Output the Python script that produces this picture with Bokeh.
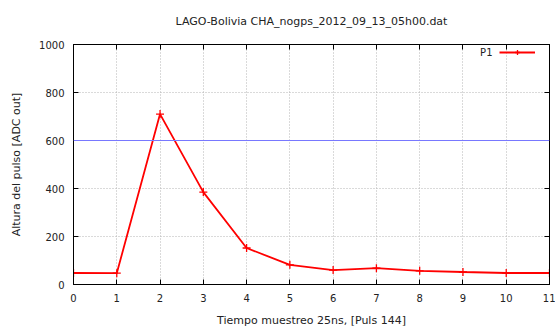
from bokeh.plotting import figure
from bokeh.models import LinearAxis, Legend, LegendItem, Label, FixedTicker, Span
from bokeh.core.properties import value
from bokeh.embed import file_html
from bokeh.resources import INLINE

# data
muestra = [0, 1, 2, 3, 4, 5, 6, 7, 8, 9, 10, 11]
p1 = [48, 47, 710, 385, 152, 82, 60, 68, 57, 52, 48, 48]
umbral = 600
x_ticks = list(range(0, 12))
y_ticks = [0, 200, 400, 600, 800, 1000]

title_text = "LAGO-Bolivia CHA_nogps_2012_09_13_05h00.dat"
x_label = "Tiempo muestreo 25ns, [Puls 144]"
y_label = "Altura del pulso [ADC out]"
serie = "P1"

FONT = "DejaVu Sans"
TXT = "#222222"

p = figure(width=555, height=332, output_backend="svg", toolbar_location=None,
           x_range=(0, 11), y_range=(0, 1000),
           min_border_left=73, min_border_right=6, min_border_top=44, min_border_bottom=48,
           x_axis_location=None, y_axis_location=None)
p.background_fill_color = "white"
p.border_fill_color = "white"
p.outline_line_color = "black"
p.outline_line_width = 1

def style_axis(ax, ticks, show_labels):
    ax.axis_line_color = "black"
    ax.major_tick_in = 5
    ax.major_tick_out = 0
    ax.minor_tick_line_color = None
    ax.major_tick_line_color = "black"
    ax.major_label_text_font = FONT
    ax.major_label_text_font_size = "10px"
    ax.major_label_text_color = TXT
    ax.axis_label_text_font = FONT
    ax.axis_label_text_font_size = "11px"
    ax.axis_label_text_font_style = "normal"
    ax.axis_label_text_color = TXT
    if not show_labels:
        ax.major_label_overrides = {t: "" for t in ticks}
        ax.major_label_standoff = 0

xb = LinearAxis(ticker=FixedTicker(ticks=x_ticks), axis_label=x_label)
style_axis(xb, x_ticks, True)
xb.major_label_standoff = 9
xb.axis_label_standoff = 9
p.add_layout(xb, "below")

yl = LinearAxis(ticker=FixedTicker(ticks=y_ticks), axis_label=y_label)
style_axis(yl, y_ticks, True)
yl.major_label_standoff = 9
yl.axis_label_standoff = 13
p.add_layout(yl, "left")

xt = LinearAxis(ticker=FixedTicker(ticks=x_ticks))
style_axis(xt, x_ticks, False)
p.add_layout(xt, "above")
yr = LinearAxis(ticker=FixedTicker(ticks=y_ticks))
style_axis(yr, y_ticks, False)
p.add_layout(yr, "right")

p.xgrid.ticker = FixedTicker(ticks=x_ticks)
p.ygrid.ticker = FixedTicker(ticks=y_ticks)
for g in (p.xgrid, p.ygrid):
    g.grid_line_color = "#b4b4b4"
    g.grid_line_dash = "1 2"
    g.grid_line_width = 1

p.title.text = title_text
p.title.text_font = FONT
p.title.text_font_size = "11px"
p.title.text_font_style = "normal"
p.title.text_color = TXT
p.title.align = "center"
p.title.standoff = 29
p.title.vertical_align = "top"

span = Span(location=umbral, dimension="width", line_color="#7878ff", line_width=1)
p.add_layout(span)

ln = p.line(muestra, p1, line_color="#ff0000", line_width=1.8)
sc = p.scatter(muestra, p1, marker="cross", size=8, line_color="#ff0000", line_width=1.3)

legend = Legend(items=[LegendItem(label=value(""), renderers=[ln, sc])],
                location="top_right", glyph_width=36, glyph_height=12,
                label_width=0, label_standoff=12, padding=0, margin=2,
                border_line_color=None, background_fill_alpha=0)
p.add_layout(legend, "center")
p.add_layout(Label(x=11, y=1000, x_offset=-57, y_offset=-8, text=serie,
                   text_font=FONT, text_font_size="10px", text_color=TXT,
                   text_align="right", text_baseline="middle"))

open("out.html", "w").write(file_html(p, INLINE))
